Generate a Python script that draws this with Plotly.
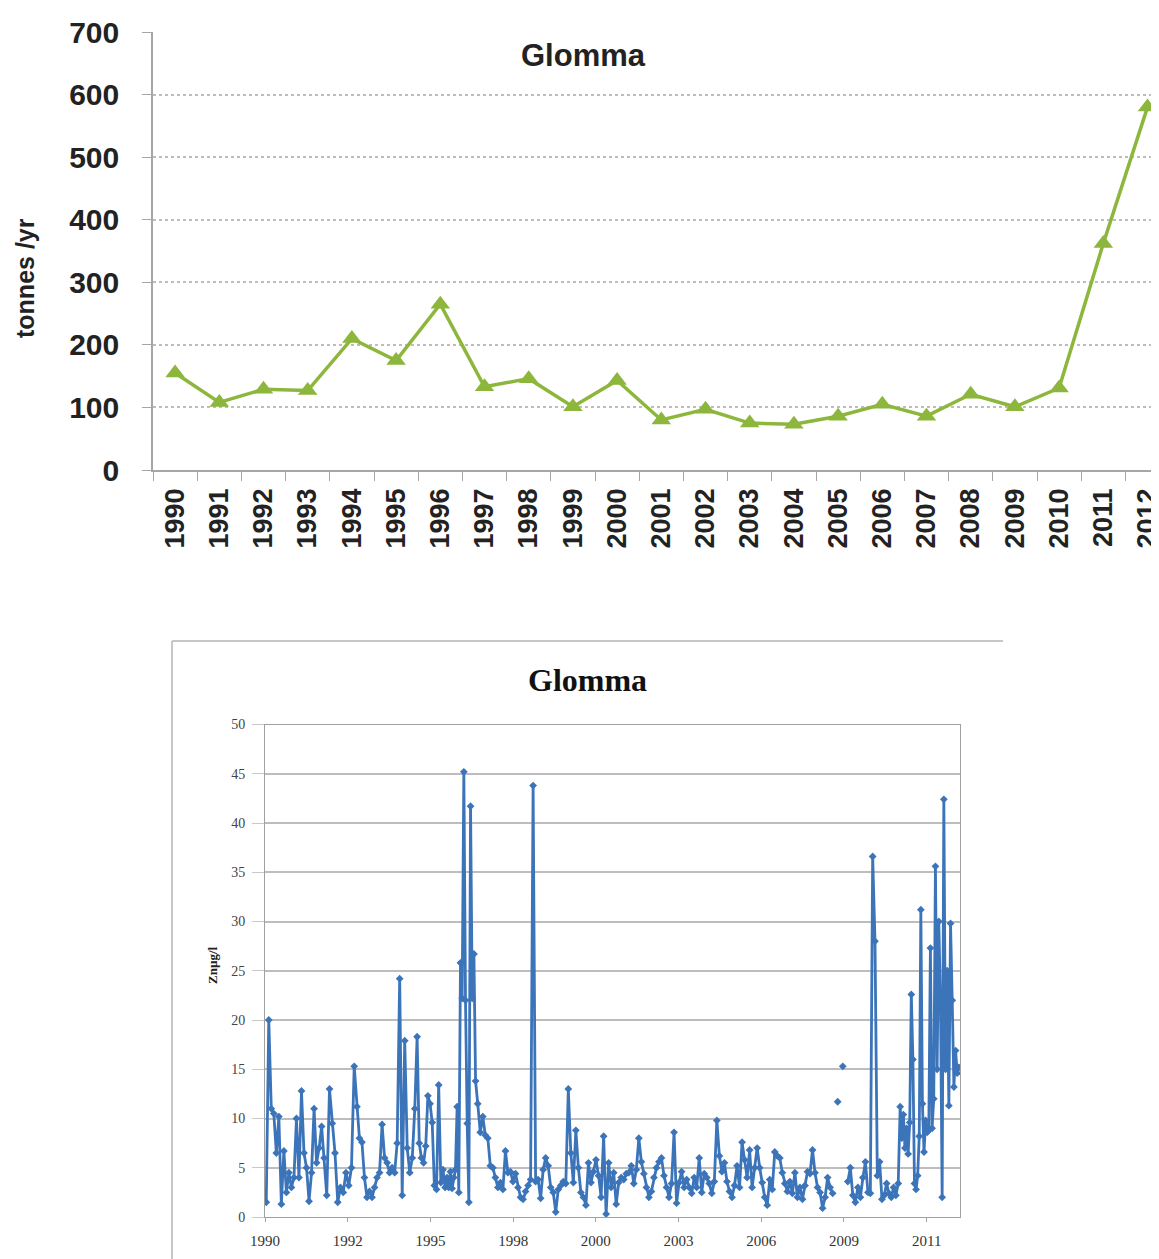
import plotly.graph_objects as go
import pandas as pd

# ---- top chart: annual Zn load, Glomma ----
load_years = [str(y) for y in range(1990, 2013)]
load_tonnes = [155, 108, 129, 127, 210, 175, 265, 133, 146, 101, 143, 80, 97,
               75, 73, 86, 105, 86, 121, 101, 131, 362, 580]

# ---- bottom chart: Zn concentration samples (µg/l), one list per year ----
zn_1990 = [1.5, 20.0, 11.0, 10.5, 6.5, 10.2, 1.3, 6.7, 2.5, 4.5, 3.0, 4.0]
zn_1991 = [10.0, 4.0, 12.8, 6.5, 5.0, 1.6, 4.5, 11.0, 5.5, 7.0, 9.2, 6.0]
zn_1992 = [2.2, 13.0, 9.5, 6.5, 1.5, 3.0, 2.5, 4.5, 3.2, 5.0, 15.3]
zn_1993 = [11.2, 8.0, 7.6, 4.0, 2.0, 2.6, 2.0, 3.0, 4.0, 4.5, 9.4, 6.0]
zn_1994 = [5.5, 4.5, 5.0, 4.5, 7.5, 24.2, 2.2, 17.9, 7.0, 4.5, 6.0, 11.0]
zn_1995 = [18.3, 7.5, 6.0, 5.5, 7.2, 12.3, 11.5, 9.6, 3.2, 2.8, 13.4, 3.5, 4.8, 3.0]
zn_1996 = [4.0, 3.0, 4.6, 2.9, 4.0, 4.8, 11.2, 2.5, 25.8, 22.2, 45.2, 22.0,
           9.5, 1.5, 41.7, 22.2, 26.7, 13.8]
zn_1997 = [11.5, 8.6, 10.2, 8.3, 8.0, 5.2, 5.0, 4.0, 3.0, 3.5, 2.8, 6.7]
zn_1998 = [4.5, 4.6, 3.6, 4.4, 3.0, 2.0, 1.8, 2.6, 3.2, 3.8, 43.8, 3.6]
zn_1999 = [3.8, 1.9, 4.8, 6.0, 5.2, 3.0, 2.5, 0.5, 2.8, 3.2, 3.6, 3.4]
zn_2000 = [13.0, 6.5, 3.5, 8.8, 5.0, 2.5, 2.0, 1.2, 5.5, 3.5, 4.6, 5.8]
zn_2001 = [4.2, 2.0, 8.2, 0.3, 5.5, 3.0, 4.5, 1.3, 3.5, 4.0, 3.8, 4.4]
zn_2002 = [4.5, 5.2, 3.4, 4.8, 8.0, 5.6, 4.4, 3.0, 2.0, 2.6, 4.0, 5.0]
zn_2003 = [5.6, 6.0, 4.2, 3.0, 2.0, 3.4, 8.6, 1.4, 3.5, 4.6, 3.0, 3.8]
zn_2004 = [3.0, 2.4, 4.0, 3.0, 6.0, 2.5, 4.4, 4.0, 3.4, 2.4, 3.6, 9.8]
zn_2005 = [6.2, 4.6, 5.5, 3.6, 2.6, 2.0, 3.2, 5.2, 3.0, 7.6, 5.8, 4.0]
zn_2006 = [6.8, 3.0, 5.0, 7.0, 5.0, 3.5, 2.0, 1.2, 3.8, 2.8, 6.6, 6.2]
zn_2007 = [6.0, 4.5, 3.4, 2.6, 3.6, 2.4, 4.5, 2.0, 3.0, 1.8, 3.2, 4.6]
zn_2008 = [4.4, 6.8, 4.5, 3.0, 2.5, 0.9, 2.0, 4.0, 3.0, 2.4, None, 11.7]
zn_2009 = [None, 15.3, None, 3.6, 5.0, 2.2, 1.5, 3.0, 2.0, 4.0, 5.6, 2.5]
zn_2010 = [2.4, 36.6, 28.0, 4.2, 5.6, 1.8, 2.2, 3.4, 2.4, 2.0, 3.0, 2.2, 3.4]
zn_2011 = [11.2, 8.0, 10.4, 7.0, 9.0, 6.4, 9.6, 22.6, 16.0, 3.4, 2.8, 4.2, 8.2,
           31.2, 11.5, 6.6, 9.8, 8.6, 8.8]
zn_2012 = [27.3, 9.0, 12.0, 35.6, 15.0, 30.0, 22.0, 2.0, 42.4, 15.0, 25.0, 11.3,
           29.8, 22.0, 13.2, 16.9, 14.6, 15.2]

zn_by_year = [zn_1990, zn_1991, zn_1992, zn_1993, zn_1994, zn_1995, zn_1996,
              zn_1997, zn_1998, zn_1999, zn_2000, zn_2001, zn_2002, zn_2003,
              zn_2004, zn_2005, zn_2006, zn_2007, zn_2008, zn_2009, zn_2010,
              zn_2011, zn_2012]

# samples spread evenly through each year
zn_dates, zn_vals = [], []
for k, vals in enumerate(zn_by_year):
    start = pd.Timestamp(1990 + k, 1, 1)
    for i, v in enumerate(vals):
        zn_dates.append(start + pd.Timedelta(days=(i + 0.5) * 365.25 / len(vals)))
        zn_vals.append(v)

W, H = 1159, 1259
OFF = 8  # page body margin


def px(x):
    return (x - OFF) / W


def py(y):
    return (H - (y - OFF)) / H


green = "#8DB63C"
blue = "#3C74BA"
sans = "Liberation Sans"
serif = "Liberation Serif"

fig = go.Figure()

fig.add_trace(go.Scatter(
    x=load_years, y=load_tonnes, mode="lines+markers",
    line=dict(color=green, width=3.5),
    marker=dict(symbol="triangle-up", size=17, color=green),
    xaxis="x", yaxis="y", showlegend=False, cliponaxis=False,
))

fig.add_trace(go.Scatter(
    x=zn_dates, y=zn_vals, mode="lines+markers",
    line=dict(color=blue, width=2.8),
    marker=dict(symbol="diamond", size=6, color=blue),
    connectgaps=False,
    xaxis="x2", yaxis="y2", showlegend=False,
))


def note(text, x, y, font, angle=0):
    return dict(text=text, x=px(x), y=py(y), xref="paper", yref="paper",
                xanchor="center", yanchor="middle", textangle=angle,
                showarrow=False, font=font)


fig.update_layout(
    template="none",
    width=W, height=H,
    margin=dict(l=0, r=0, t=0, b=0),
    paper_bgcolor="white", plot_bgcolor="white",
    xaxis=dict(
        domain=[px(153), px(1159)], anchor="y", automargin=False,
        type="category", range=[-0.5, 22.26],
        showgrid=False, showline=True, linecolor="#a6a6a6", linewidth=1.5,
        ticks="outside", ticklen=9, tickcolor="#a6a6a6", tickson="boundaries",
        tickangle=-90, ticklabelstandoff=6,
        tickfont=dict(family=sans, size=27, color="#222", weight="bold"),
    ),
    yaxis=dict(
        domain=[py(470), py(32)], anchor="x", automargin=False,
        range=[0, 700], dtick=100,
        showgrid=True, gridcolor="#bdbdbd", gridwidth=1.5, griddash="3px,3px",
        zeroline=False,
        showline=True, linecolor="#a6a6a6", linewidth=1.5,
        ticks="outside", ticklen=9, tickcolor="#a6a6a6",
        ticklabelstandoff=17,
        tickfont=dict(family=sans, size=30, color="#222", weight="bold"),
    ),
    xaxis2=dict(
        domain=[px(265), px(960)], anchor="y2", automargin=False,
        type="date", range=["1990-01-01", "2013-01-03"],
        tick0="1990-01-01", dtick=86400000 * 1000, tickformat="%Y",
        showgrid=False, showline=True, linecolor="#a0a0a0", linewidth=1,
        mirror=True, ticks="outside", ticklen=4, tickcolor="#a0a0a0",
        ticklabelstandoff=6,
        tickfont=dict(family=serif, size=15, color="#333"),
    ),
    yaxis2=dict(
        domain=[py(1217), py(724.5)], anchor="x2", automargin=False,
        range=[0, 50], dtick=5,
        showgrid=True, gridcolor="#bdbdbd", gridwidth=1.5,
        zeroline=False,
        showline=True, linecolor="#a0a0a0", linewidth=1, mirror=True,
        ticks="outside", ticklen=12, tickcolor="#c8c8c8", ticklabelstandoff=4,
        tickfont=dict(family=serif, size=14, color="#444"),
    ),
    annotations=[
        note("Glomma", 583, 56, dict(family=sans, size=31, color="#222", weight="bold")),
        note("tonnes /yr", 25, 278, dict(family=sans, size=25, color="#222", weight="bold"), -90),
        note("Glomma", 587, 680, dict(family=serif, size=32, color="#111", weight="bold")),
        note("Znµg/l", 212, 965, dict(family=serif, size=13, color="#222", weight="bold"), -90),
    ],
    shapes=[
        dict(type="line", xref="paper", yref="paper", x0=px(172), x1=px(1003),
             y0=py(641), y1=py(641), line=dict(color="#b5b5b5", width=1.5)),
        dict(type="line", xref="paper", yref="paper", x0=px(172), x1=px(172),
             y0=py(641), y1=0, line=dict(color="#b5b5b5", width=1.5)),
    ],
)

fig.write_html("out.html")
